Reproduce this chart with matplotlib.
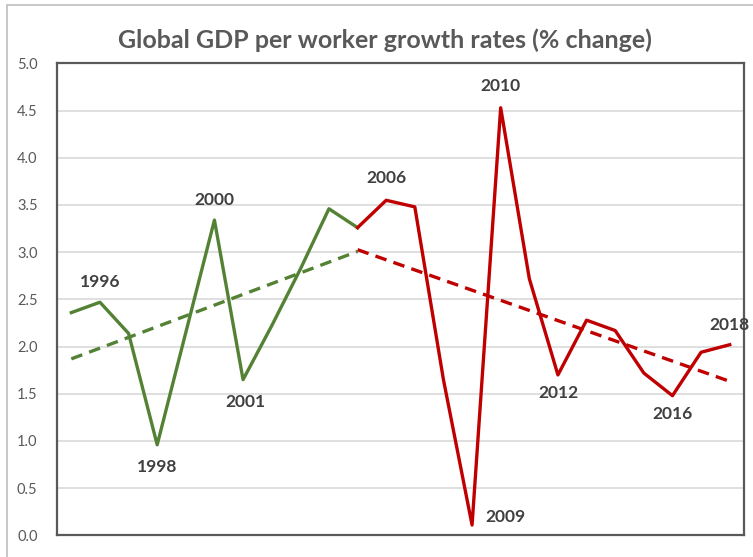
import numpy as np
import matplotlib.pyplot as plt
from matplotlib.patches import Rectangle

# data
green_years = [1995, 1996, 1997, 1998, 1999, 2000, 2001, 2002, 2003, 2004, 2005]
green_vals = [2.36, 2.47, 2.14, 0.96, 2.15, 3.34, 1.65, 2.22, 2.82, 3.46, 3.26]
red_years = [2005, 2006, 2007, 2008, 2009, 2010, 2011, 2012, 2013, 2014, 2015,
             2016, 2017, 2018]
red_vals = [3.26, 3.55, 3.48, 1.65, 0.11, 4.53, 2.72, 1.70, 2.28, 2.17, 1.72,
            1.48, 1.94, 2.02]
labelled_years = [1996, 1998, 2000, 2001, 2006, 2009, 2010, 2012, 2016, 2018]
yticks = np.arange(0, 5.01, 0.5)

GREEN = '#548235'
RED = '#C00000'
TXT = '#404040'
plt.rcParams['font.family'] = ['Lato', 'DejaVu Sans']

fig = plt.figure(figsize=(7.53, 5.57), dpi=100)
fig.patches.append(Rectangle((7 / 753, -0.1), 1.2, 1 - 5 / 557 + 0.1,
                             transform=fig.transFigure, fill=False,
                             edgecolor='#bfbfbf', lw=1.2))
ax = fig.add_axes([57 / 753, 1 - 535.4 / 557, (744 - 57) / 753, (535.4 - 63.4) / 557])

ax.plot(green_years, green_vals, color=GREEN, lw=2.4, zorder=3)
ax.plot(red_years, red_vals, color=RED, lw=2.4, zorder=3)

# linear trend lines
for yrs, vals, c in [(green_years, green_vals, GREEN), (red_years, red_vals, RED)]:
    k, b = np.polyfit(yrs, vals, 1)
    xs = np.array([yrs[0], yrs[-1]])
    ax.plot(xs, k * xs + b, color=c, lw=2.4, ls=(0, (3.5, 2.2)), zorder=2)

# year labels
offsets = {1996: (0, 12, 'bottom'), 1998: (0, -14, 'top'), 2000: (0, 12, 'bottom'),
           2001: (2, -14, 'top'), 2006: (0, 14, 'bottom'), 2009: (33, 8, 'center'),
           2010: (0, 14, 'bottom'), 2012: (0, -10, 'top'), 2016: (0, -10, 'top'),
           2018: (0, 12, 'bottom')}
all_years = green_years + red_years[1:]
all_vals = green_vals + red_vals[1:]
for yr in labelled_years:
    v = all_vals[all_years.index(yr)]
    dx, dy, va = offsets[yr]
    ax.annotate(str(yr), (yr, v), xytext=(dx, dy), textcoords='offset pixels',
                ha='center', va=va, fontsize=12.5, fontweight='bold', color=TXT)

ax.set_xlim(1994.5, 2018.5)
ax.set_ylim(0, 5)
ax.set_yticks(yticks)
ax.set_yticklabels([f'{t:.1f}' for t in yticks])
ax.set_xticks([])
ax.tick_params(axis='y', length=0, pad=14, labelsize=10.5, labelcolor='#595959')
ax.grid(axis='y', color='#d9d9d9', lw=1.2)
ax.set_axisbelow(True)
for s in ax.spines.values():
    s.set_color('#595959')
    s.set_linewidth(1.6)

fig.text(385 / 753, 1 - 40 / 557, 'Global GDP per worker growth rates (% change)',
         ha='center', va='center', fontsize=18, fontweight='bold', color='#595959')

fig.savefig('out.png', dpi=100)
